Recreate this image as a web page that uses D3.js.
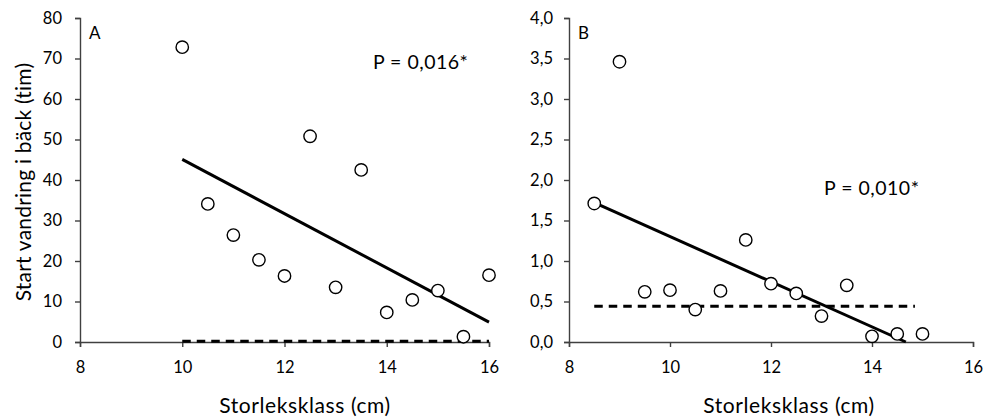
<!DOCTYPE html>
<html>
<head>
<meta charset="utf-8">
<script src="https://cdn.jsdelivr.net/npm/d3@7"></script>
<style>
  html, body { margin: 0; padding: 0; background: #fff; }
  svg { display: block; font-family: Lato, "Open Sans", sans-serif; }
</style>
</head>
<body>
<svg id="chart" width="985" height="419"></svg>
<script>
// Panel A: start of migration (hours) per size class
const sizeA = [10, 10.5, 11, 11.5, 12, 12.5, 13, 13.5, 14, 14.5, 15, 15.5, 16];
const hoursA = [72.8, 34.1, 26.4, 20.3, 16.3, 50.8, 13.5, 42.5, 7.3, 10.4, 12.7, 1.3, 16.5];
const trendA = [[10, 45.1], [16, 4.9]];
const dashA = [[10, 0.2], [16, 0.2]];

// Panel B
const sizeB = [8.5, 9, 9.5, 10, 10.5, 11, 11.5, 12, 12.5, 13, 13.5, 14, 14.5, 15];
const hoursB = [1.71, 3.46, 0.62, 0.64, 0.40, 0.63, 1.26, 0.72, 0.60, 0.32, 0.70, 0.07, 0.10, 0.10];
const trendB = [[8.5, 1.72], [14.67, 0]];
const dashB = [[8.5, 0.44], [14.85, 0.44]];

const xTicks = [8, 10, 12, 14, 16];
const yTicksA = [0, 10, 20, 30, 40, 50, 60, 70, 80];
const yTicksB = [0, 0.5, 1, 1.5, 2, 2.5, 3, 3.5, 4];

const xLabel = "Storleksklass (cm)";
const yLabel = "Start vandring i bäck (tim)";

const svg = d3.select("#chart");
const axisColor = "#404040";
const fmtComma = d => d3.format(".1f")(d).replace(".", ",");

function panel(cfg) {
  const x = d3.scaleLinear().domain([8, 16]).range([cfg.left, cfg.right]);
  const y = d3.scaleLinear().domain([0, cfg.yMax]).range([342, 18]);
  const g = svg.append("g");

  const yAxis = g.append("g")
    .attr("transform", `translate(${cfg.left},0)`)
    .call(d3.axisLeft(y).tickValues(cfg.yTicks).tickSize(5).tickPadding(cfg.yPad).tickFormat(cfg.fmt));
  const xAxis = g.append("g")
    .attr("transform", `translate(0,342)`)
    .call(d3.axisBottom(x).tickValues(xTicks).tickSize(5).tickPadding(14));
  [xAxis, yAxis].forEach(a => {
    a.select(".domain").attr("stroke", axisColor).attr("stroke-width", 1.4);
    a.selectAll(".tick line").attr("stroke", axisColor).attr("stroke-width", 1.4);
    a.selectAll(".tick text").attr("fill", "#000").style("font-size", "16.5px").style("font-family", "Lato, sans-serif");
  });

  const line = d3.line().x(d => x(d[0])).y(d => y(d[1]));
  g.append("path").datum(cfg.dash).attr("d", line)
    .attr("fill", "none").attr("stroke", "#000").attr("stroke-width", 3)
    .attr("stroke-dasharray", "8.5,6");
  g.append("path").datum(cfg.trend).attr("d", line)
    .attr("fill", "none").attr("stroke", "#000").attr("stroke-width", 3);

  g.selectAll("circle.pt").data(cfg.xs.map((v, i) => [v, cfg.ys[i]]))
    .enter().append("circle").attr("class", "pt")
    .attr("cx", d => x(d[0])).attr("cy", d => y(d[1])).attr("r", 6.2)
    .attr("fill", "#fff").attr("stroke", "#000").attr("stroke-width", 1.4);

  g.append("text").attr("x", cfg.left + 9).attr("y", 39)
    .style("font-size", "17px").text(cfg.letter);
  g.append("text").attr("x", x(cfg.pPos[0])).attr("y", y(cfg.pPos[1]))
    .style("font-size", "19.5px").style("letter-spacing", "0.5px").text(cfg.pText);
  g.append("text").attr("x", cfg.labelX).attr("y", 413)
    .attr("text-anchor", "middle").style("font-size", "21px").style("letter-spacing", "0.6px")
    .text(xLabel);
}

panel({ left: 80, right: 489, yMax: 80, yTicks: yTicksA, fmt: d3.format("d"), yPad: 13,
  xs: sizeA, ys: hoursA, trend: trendA, dash: dashA, letter: "A",
  pText: "P = 0,016*", pPos: [13.73, 67.3], labelX: 305 });
panel({ left: 569, right: 973, yMax: 4, yTicks: yTicksB, fmt: fmtComma, yPad: 11,
  xs: sizeB, ys: hoursB, trend: trendB, dash: dashB, letter: "B",
  pText: "P = 0,010*", pPos: [13.05, 1.815], labelX: 789 });

svg.append("text")
  .attr("transform", "translate(31,182) rotate(-90)")
  .attr("text-anchor", "middle").style("font-size", "21px").style("letter-spacing", "0.2px")
  .text(yLabel);
</script>
</body>
</html>
